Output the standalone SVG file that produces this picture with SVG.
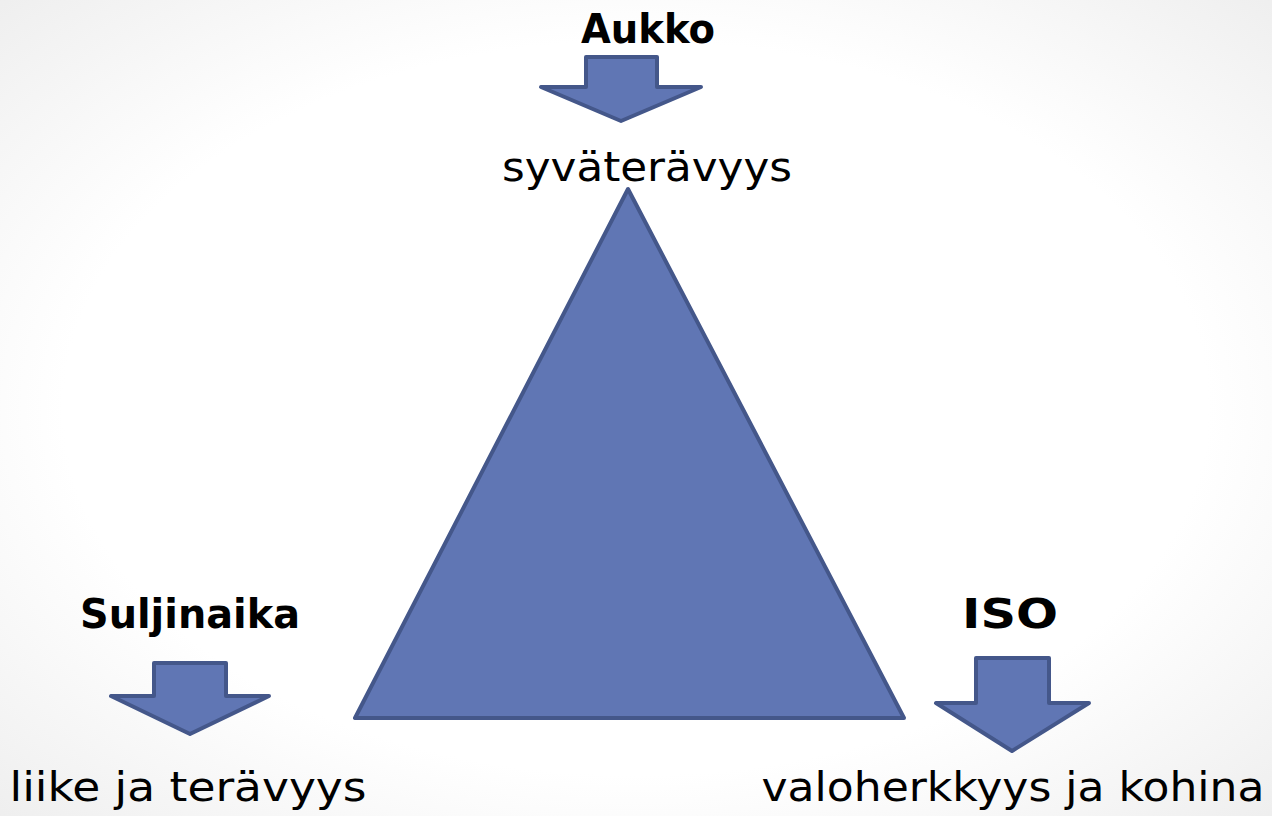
<svg xmlns="http://www.w3.org/2000/svg" width="1272" height="816" viewBox="0 0 1272 816">
<defs>
<radialGradient id="bg" cx="50%" cy="50%" r="75%">
<stop offset="0" stop-color="#ffffff"/>
<stop offset="0.6" stop-color="#ffffff"/>
<stop offset="1" stop-color="#ececec"/>
</radialGradient>
<style>
.shape{fill:#6076b4;stroke:#44578a;stroke-width:4;stroke-linejoin:round}
.t{font-family:"DejaVu Sans","Noto Sans",sans-serif;font-size:40px;fill:#000}
.b{font-weight:bold}
</style>
</defs>
<rect width="1272" height="816" fill="url(#bg)"/>
<g id="triangle">
<polygon class="shape" points="628,189 355,718 904,718" stroke-width="5"/>
</g>
<g id="aukko">
<text class="t b" x="648" y="43" text-anchor="middle" textLength="134" lengthAdjust="spacingAndGlyphs">Aukko</text>
<polygon class="shape" points="586,57 657,57 657,87 701,87 621,121 541,87 586,87"/>
<text class="t" x="647" y="181" text-anchor="middle" textLength="290" lengthAdjust="spacingAndGlyphs">syväterävyys</text>
</g>
<g id="suljinaika">
<text class="t b" x="190" y="628" text-anchor="middle" textLength="220" lengthAdjust="spacingAndGlyphs">Suljinaika</text>
<polygon class="shape" points="154,663 226,663 226,696 269,696 190,734 111,696 154,696"/>
<text class="t" x="188" y="801" text-anchor="middle" textLength="357" lengthAdjust="spacingAndGlyphs">liike ja terävyys</text>
</g>
<g id="iso">
<text class="t b" x="1010" y="628" text-anchor="middle" textLength="96" lengthAdjust="spacingAndGlyphs">ISO</text>
<polygon class="shape" points="976,658 1049,658 1049,703 1089,703 1012,751 936,703 976,703"/>
<text class="t" x="1013" y="801" text-anchor="middle" textLength="503" lengthAdjust="spacingAndGlyphs">valoherkkyys ja kohina</text>
</g>
<g id="connectors"/>
</svg>
